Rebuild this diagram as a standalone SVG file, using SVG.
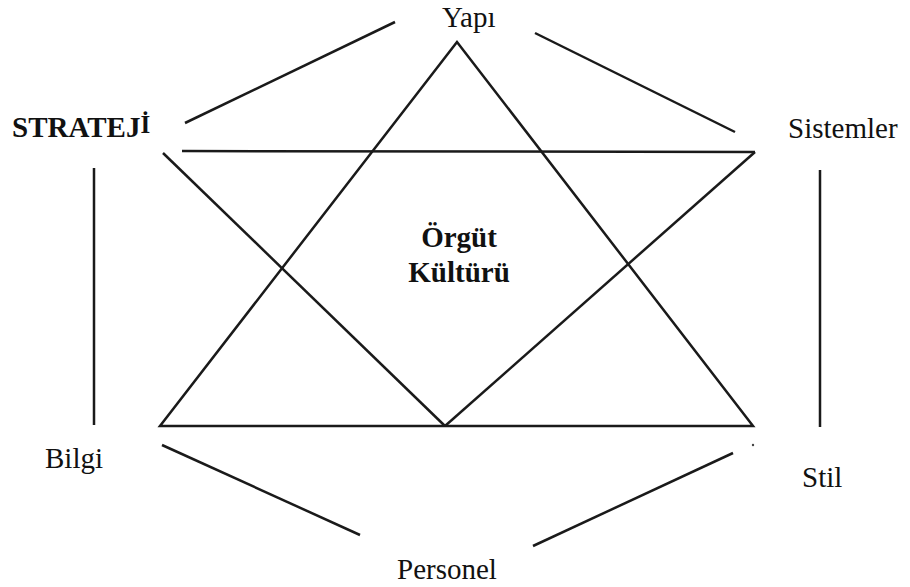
<svg xmlns="http://www.w3.org/2000/svg" width="910" height="587" viewBox="0 0 910 587">
<style>
.ln{stroke:#1a1a1a;stroke-width:2.5;fill:none;stroke-linecap:butt}
.t{font-size:29px;fill:#111}
.b{font-weight:bold}
</style>
<rect width="910" height="587" fill="#fff"/>
<g id="connectors">
<polygon class="ln" points="457,42 160,426 753,426" stroke-linejoin="miter"/>
<line class="ln" x1="182" y1="151" x2="755" y2="152"/>
<line class="ln" x1="163" y1="153" x2="445" y2="426"/>
<line class="ln" x1="755" y1="152" x2="445" y2="426"/>
<line class="ln" x1="185" y1="123" x2="395" y2="22"/>
<line class="ln" x1="535" y1="33" x2="735" y2="132"/>
<line class="ln" x1="94" y1="168" x2="94" y2="425"/>
<line class="ln" x1="820" y1="170" x2="820" y2="427"/>
<line class="ln" x1="162" y1="445" x2="360" y2="535"/>
<line class="ln" x1="533" y1="546" x2="733" y2="453"/>
<circle cx="753" cy="445" r="1.2" fill="#444"/>
</g>
<g font-family="Liberation Serif, DejaVu Serif, serif">
<g id="yapi"><text class="t" x="442" y="27">Yapı</text></g>
<g id="strateji"><text class="t b" x="12" y="137">STRATEJ<tspan font-size="25" dy="-4">İ</tspan></text></g>
<g id="sistemler"><text class="t" x="788" y="138">Sistemler</text></g>
<g id="orgut-kulturu"><text class="t b" x="459" y="247" text-anchor="middle">Örgüt</text><text class="t b" x="459" y="282" text-anchor="middle">Kültürü</text></g>
<g id="bilgi"><text class="t" x="45" y="468">Bilgi</text></g>
<g id="stil"><text class="t" x="802" y="487">Stil</text></g>
<g id="personel"><text class="t" x="397" y="579">Personel</text></g>
</g>
</svg>
